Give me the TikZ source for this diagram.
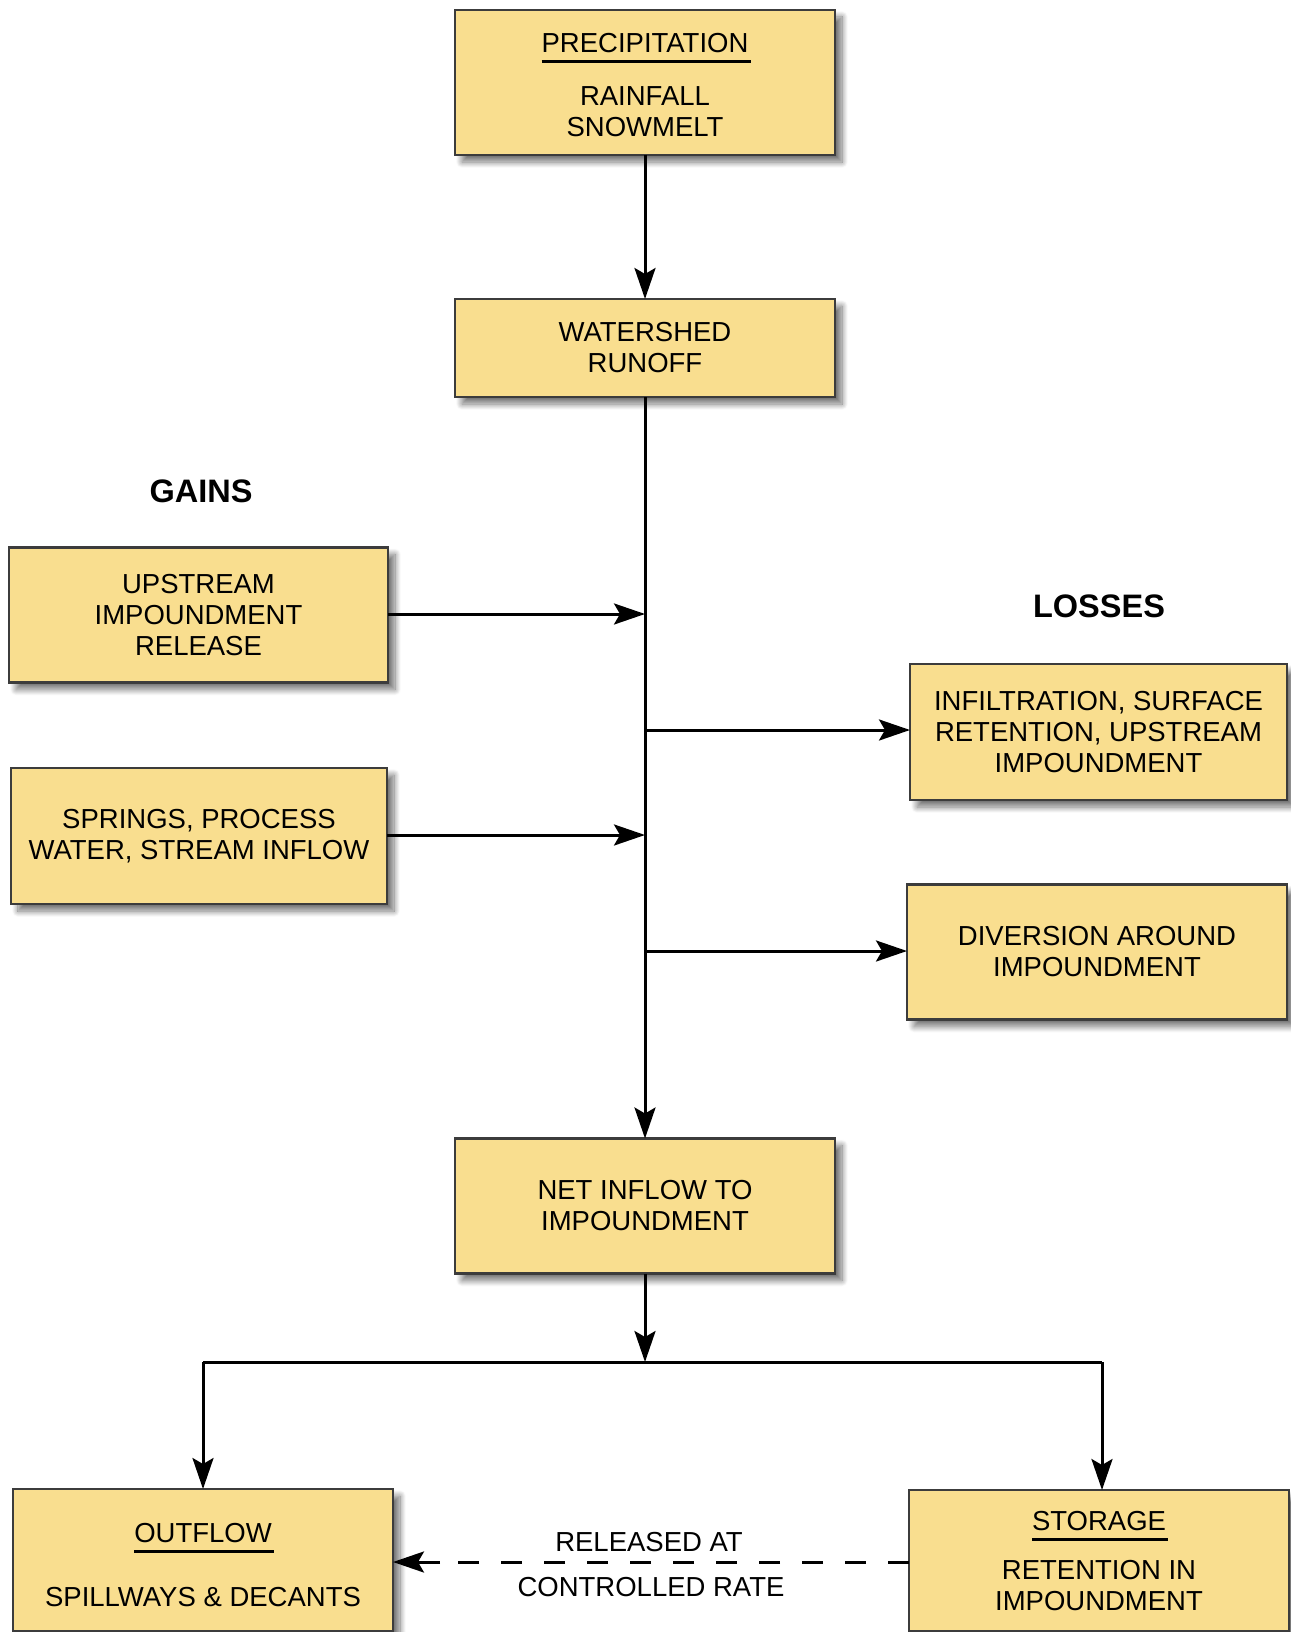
\documentclass[tikz,border=0pt]{standalone}
\usepackage{fontspec}
\setmainfont{Liberation Sans}
\usetikzlibrary{arrows.meta,shadows.blur}
\definecolor{boxfill}{HTML}{F9DE8F}
\definecolor{boxline}{HTML}{3C3C3C}
\tikzset{
  box/.style={draw=boxline, line width=2.6pt, fill=boxfill, align=center,
    inner sep=0pt, outer sep=0pt,
    blur shadow={shadow xshift=7pt, shadow yshift=-7pt, shadow blur radius=6pt, shadow blur steps=12, shadow opacity=55},
    font=\fontsize{27.5}{31}\selectfont},
  txt/.style={inner sep=0pt, outer sep=0pt, align=center, font=\fontsize{27.5}{31}\selectfont},
  head/.style={inner sep=0pt, font=\fontsize{32.5}{36}\selectfont\bfseries},
  conn/.style={line width=3pt, draw=black},
  tip/.style={-{Stealth[length=31pt,width=21pt,inset=6pt]}},
  arr/.style={conn, tip},
  uline/.style={line width=3pt},
  dashline/.style={line width=3pt, dash pattern=on 21pt off 22pt}
}
\begin{document}
\begin{tikzpicture}[x=1pt,y=-1pt]
\useasboundingbox (0,0) rectangle (1290,1632);
% boxes
\node[box, minimum width=380pt, minimum height=145pt] (prec) at (645,82.5) {};
\node[txt] (prect) at (645,43) {PRECIPITATION};
\draw[uline] ([yshift=-9pt]prect.base west) -- ([yshift=-9pt,xshift=3pt]prect.base east);
\node[txt] (precb) at (645,112) {RAINFALL\\SNOWMELT};

\node[box, minimum width=380pt, minimum height=98pt] (ws) at (645,348) {WATERSHED\\RUNOFF};
\node[box, minimum width=379pt, minimum height=135pt] (up) at (198.5,615) {UPSTREAM\\IMPOUNDMENT\\RELEASE};
\node[box, minimum width=376pt, minimum height=136pt] (sp) at (199,836) {SPRINGS, PROCESS\\WATER, STREAM INFLOW};
\node[box, minimum width=377pt, minimum height=136pt] (inf) at (1098.5,732) {INFILTRATION, SURFACE\\RETENTION, UPSTREAM\\IMPOUNDMENT};
\node[box, minimum width=380pt, minimum height=135pt] (div) at (1097,952) {DIVERSION AROUND\\IMPOUNDMENT};
\node[box, minimum width=380pt, minimum height=135pt] (net) at (645,1206) {NET INFLOW TO\\IMPOUNDMENT};

\node[box, minimum width=380pt, minimum height=142pt] (out) at (203,1560) {};
\node[txt] (outt) at (203,1533) {OUTFLOW};
\draw[uline] ([yshift=-9pt]outt.base west) -- ([yshift=-9pt,xshift=2pt]outt.base east);
\node[txt] (outb) at (203,1597) {SPILLWAYS \& DECANTS};

\node[box, minimum width=380pt, minimum height=141pt] (sto) at (1099,1560.5) {};
\node[txt] (stot) at (1099,1521) {STORAGE};
\draw[uline] ([yshift=-9pt]stot.base west) -- ([yshift=-9pt,xshift=2pt]stot.base east);
\node[txt] (stob) at (1099,1585.5) {RETENTION IN\\IMPOUNDMENT};

% headings
\node[head] (gains) at (201,491) {GAINS};
\node[head] (losses) at (1099,606) {LOSSES};

% connectors
\coordinate (jup) at (645,614);
\coordinate (jsp) at (645,835);
\coordinate (jinf) at (645,730);
\coordinate (jdiv) at (645,951);
\coordinate (jbot) at (645,1362);
\coordinate (bl) at (203,1362);
\coordinate (br) at (1102,1362);

\draw[arr] (prec.south) -- (ws.north);
\draw[arr] (ws.south) -- (net.north);
\draw[arr] (up.east |- jup) -- (jup);
\draw[arr] (sp.east |- jsp) -- (jsp);
\draw[arr] (jinf) -- (inf.west |- jinf);
\draw[arr] (jdiv) -- (div.west |- jdiv);
\draw[arr] (net.south) -- (jbot);
\draw[conn] (bl) -- (br);
\draw[arr] (bl) -- (bl |- out.north);
\draw[arr] (br) -- (br |- sto.north);
\draw[dashline] (sto.west |- 0,1562) -- (440,1562);
\draw[arr] (440,1562) -- (out.east |- 0,1562);

\node[txt] (rel1) at (649,1542) {RELEASED AT};
\node[txt] (rel2) at (651,1587) {CONTROLLED RATE};
\end{tikzpicture}
\end{document}
